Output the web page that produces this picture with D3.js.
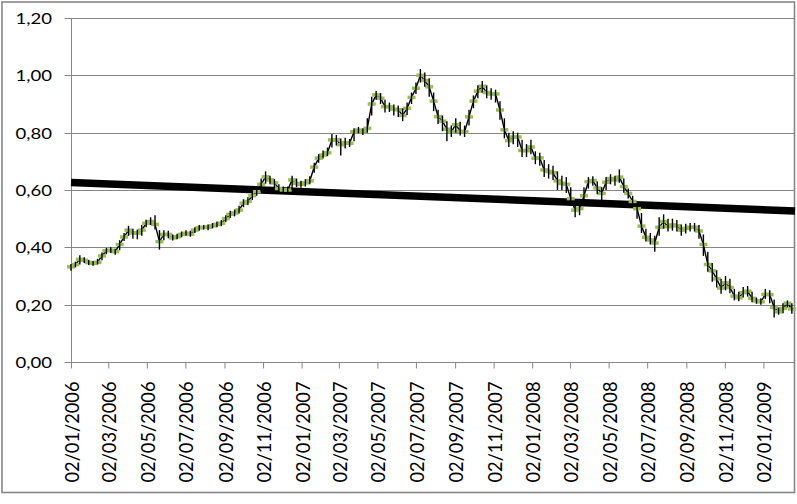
<!DOCTYPE html>
<html><head><meta charset="utf-8">
<script src="https://cdn.jsdelivr.net/npm/d3@7"></script>
<style>html,body{margin:0;padding:0;background:#fff;}svg{display:block;}</style>
</head><body><svg id="c" width="797" height="504"></svg>
<script>
const dates = [
"2006-01-02","2006-01-09","2006-01-16","2006-01-23","2006-01-30","2006-02-06","2006-02-13","2006-02-20","2006-02-27","2006-03-06",
"2006-03-13","2006-03-20","2006-03-27","2006-04-03","2006-04-10","2006-04-17","2006-04-24","2006-05-01","2006-05-08","2006-05-15",
"2006-05-22","2006-05-29","2006-06-05","2006-06-12","2006-06-19","2006-06-26","2006-07-03","2006-07-10","2006-07-17","2006-07-24",
"2006-07-31","2006-08-07","2006-08-14","2006-08-21","2006-08-28","2006-09-04","2006-09-11","2006-09-18","2006-09-25","2006-10-02",
"2006-10-09","2006-10-16","2006-10-23","2006-10-30","2006-11-06","2006-11-13","2006-11-20","2006-11-27","2006-12-04","2006-12-11",
"2006-12-18","2006-12-25","2007-01-01","2007-01-08","2007-01-15","2007-01-22","2007-01-29","2007-02-05","2007-02-12","2007-02-19",
"2007-02-26","2007-03-05","2007-03-12","2007-03-19","2007-03-26","2007-04-02","2007-04-09","2007-04-16","2007-04-23","2007-04-30",
"2007-05-07","2007-05-14","2007-05-21","2007-05-28","2007-06-04","2007-06-11","2007-06-18","2007-06-25","2007-07-02","2007-07-09",
"2007-07-16","2007-07-23","2007-07-30","2007-08-06","2007-08-13","2007-08-20","2007-08-27","2007-09-03","2007-09-10","2007-09-17",
"2007-09-24","2007-10-01","2007-10-08","2007-10-15","2007-10-22","2007-10-29","2007-11-05","2007-11-12","2007-11-19","2007-11-26",
"2007-12-03","2007-12-10","2007-12-17","2007-12-24","2007-12-31","2008-01-07","2008-01-14","2008-01-21","2008-01-28","2008-02-04",
"2008-02-11","2008-02-18","2008-02-25","2008-03-03","2008-03-10","2008-03-17","2008-03-24","2008-03-31","2008-04-07","2008-04-14",
"2008-04-21","2008-04-28","2008-05-05","2008-05-12","2008-05-19","2008-05-26","2008-06-02","2008-06-09","2008-06-16","2008-06-23",
"2008-06-30","2008-07-07","2008-07-14","2008-07-21","2008-07-28","2008-08-04","2008-08-11","2008-08-18","2008-08-25","2008-09-01",
"2008-09-08","2008-09-15","2008-09-22","2008-09-29","2008-10-06","2008-10-13","2008-10-20","2008-10-27","2008-11-03","2008-11-10",
"2008-11-17","2008-11-24","2008-12-01","2008-12-08","2008-12-15","2008-12-22","2008-12-29","2009-01-05","2009-01-12","2009-01-19",
"2009-01-26","2009-02-02","2009-02-09","2009-02-16"];

const closes = [
0.332,0.340,0.358,0.355,0.347,0.344,0.348,0.370,0.388,0.390,
0.385,0.410,0.436,0.460,0.450,0.450,0.460,0.484,0.490,0.480,
0.420,0.445,0.445,0.433,0.437,0.445,0.449,0.446,0.460,0.468,
0.470,0.470,0.475,0.480,0.484,0.500,0.515,0.520,0.530,0.554,
0.560,0.580,0.594,0.620,0.646,0.635,0.625,0.605,0.600,0.600,
0.635,0.623,0.620,0.625,0.632,0.680,0.711,0.722,0.730,0.775,
0.775,0.758,0.765,0.763,0.803,0.809,0.803,0.815,0.900,0.932,
0.920,0.891,0.890,0.882,0.880,0.860,0.885,0.923,0.955,1.000,
0.982,0.960,0.910,0.856,0.840,0.812,0.803,0.828,0.805,0.803,
0.855,0.910,0.945,0.962,0.940,0.935,0.935,0.879,0.810,0.772,
0.785,0.785,0.738,0.737,0.750,0.711,0.712,0.670,0.665,0.660,
0.632,0.623,0.620,0.570,0.530,0.535,0.580,0.629,0.633,0.607,
0.588,0.627,0.640,0.635,0.645,0.612,0.588,0.560,0.535,0.474,
0.435,0.426,0.415,0.470,0.490,0.472,0.478,0.475,0.460,0.466,
0.470,0.470,0.457,0.410,0.340,0.318,0.290,0.258,0.276,0.260,
0.230,0.224,0.242,0.247,0.222,0.213,0.210,0.236,0.235,0.190,
0.175,0.187,0.205,0.185];

const highs = [
0.342,0.350,0.372,0.365,0.356,0.352,0.360,0.382,0.398,0.400,
0.395,0.425,0.450,0.475,0.465,0.462,0.478,0.496,0.505,0.512,
0.460,0.460,0.458,0.445,0.447,0.455,0.460,0.458,0.470,0.478,
0.478,0.480,0.485,0.490,0.495,0.512,0.528,0.532,0.545,0.568,
0.575,0.598,0.612,0.640,0.665,0.650,0.638,0.620,0.612,0.612,
0.650,0.640,0.632,0.638,0.648,0.695,0.725,0.738,0.748,0.795,
0.792,0.780,0.782,0.778,0.815,0.820,0.815,0.850,0.925,0.945,
0.938,0.915,0.905,0.898,0.895,0.885,0.905,0.940,0.975,1.022,
1.010,0.990,0.940,0.880,0.860,0.840,0.825,0.850,0.838,0.825,
0.880,0.930,0.965,0.980,0.965,0.955,0.950,0.910,0.850,0.800,
0.805,0.800,0.775,0.760,0.775,0.735,0.730,0.705,0.690,0.685,
0.665,0.650,0.645,0.610,0.560,0.560,0.610,0.645,0.648,0.630,
0.610,0.645,0.655,0.650,0.672,0.640,0.605,0.580,0.555,0.520,
0.465,0.450,0.440,0.505,0.515,0.500,0.500,0.495,0.480,0.482,
0.485,0.485,0.478,0.445,0.385,0.345,0.320,0.290,0.300,0.290,
0.255,0.245,0.262,0.265,0.245,0.225,0.222,0.255,0.250,0.218,
0.190,0.205,0.215,0.205];

const lows = [
0.318,0.330,0.340,0.345,0.338,0.336,0.340,0.355,0.376,0.380,
0.374,0.390,0.422,0.440,0.430,0.428,0.440,0.470,0.478,0.462,
0.392,0.425,0.432,0.424,0.428,0.435,0.440,0.437,0.450,0.458,
0.462,0.460,0.466,0.470,0.474,0.488,0.502,0.508,0.518,0.540,
0.548,0.565,0.580,0.595,0.622,0.620,0.608,0.592,0.588,0.590,
0.600,0.610,0.608,0.612,0.620,0.660,0.695,0.710,0.718,0.748,
0.755,0.720,0.745,0.750,0.770,0.798,0.792,0.800,0.860,0.915,
0.900,0.870,0.872,0.860,0.855,0.840,0.862,0.900,0.935,0.975,
0.960,0.925,0.875,0.830,0.805,0.770,0.785,0.800,0.790,0.785,
0.825,0.885,0.920,0.940,0.920,0.915,0.905,0.845,0.780,0.750,
0.760,0.750,0.715,0.715,0.725,0.690,0.685,0.645,0.640,0.635,
0.600,0.600,0.590,0.545,0.505,0.512,0.555,0.605,0.615,0.585,
0.565,0.600,0.620,0.615,0.625,0.590,0.570,0.540,0.500,0.450,
0.420,0.410,0.385,0.440,0.465,0.455,0.458,0.455,0.440,0.448,
0.455,0.455,0.430,0.370,0.315,0.280,0.260,0.238,0.250,0.240,
0.215,0.212,0.225,0.228,0.208,0.203,0.200,0.220,0.205,0.155,
0.165,0.170,0.190,0.168];

const yTicks = [0, 0.2, 0.4, 0.6, 0.8, 1.0, 1.2];
const yTickLabels = ["0,00","0,20","0,40","0,60","0,80","1,00","1,20"];
const xTickDates = ["2006-01-02","2006-03-02","2006-05-02","2006-07-02","2006-09-02","2006-11-02",
"2007-01-02","2007-03-02","2007-05-02","2007-07-02","2007-09-02","2007-11-02",
"2008-01-02","2008-03-02","2008-05-02","2008-07-02","2008-09-02","2008-11-02","2009-01-02"];
const xTickLabels = ["02/01/2006","02/03/2006","02/05/2006","02/07/2006","02/09/2006","02/11/2006",
"02/01/2007","02/03/2007","02/05/2007","02/07/2007","02/09/2007","02/11/2007",
"02/01/2008","02/03/2008","02/05/2008","02/07/2008","02/09/2008","02/11/2008","02/01/2009"];
const axisStart = "2006-01-02", axisEnd = "2009-02-21";
const trendValues = [0.626, 0.527];

const parse = d3.utcParse("%Y-%m-%d");
const svg = d3.select("#c");
const L = 71, R = 795, T = 18, B = 362;
const x = d3.scaleUtc().domain([parse(axisStart), parse(axisEnd)]).range([L, R]);
const y = d3.scaleLinear().domain([0, 1.2]).range([B, T]);
const grid = "#868686";
const font = "Lato, 'Open Sans', sans-serif";

// outer border
svg.append("rect").attr("x", 2).attr("y", 2).attr("width", 792.5).attr("height", 490.5)
  .attr("fill", "#fff").attr("stroke", grid).attr("stroke-width", 1.6);

// gridlines
svg.append("g").selectAll("line").data(yTicks.slice(1)).join("line")
  .attr("x1", L).attr("x2", R).attr("y1", d => Math.round(y(d)) + 0.5).attr("y2", d => Math.round(y(d)) + 0.5)
  .attr("stroke", grid).attr("stroke-width", 1);

// y axis
const yAxis = d3.axisLeft(y).tickValues(yTicks).tickSize(7).tickFormat((d, i) => yTickLabels[i]);
const gy = svg.append("g").attr("transform", `translate(${L + 0.5},0)`).call(yAxis);
gy.selectAll(".tick").attr("transform", d => `translate(0,${Math.round(y(d)) + 0.5})`);
gy.select(".domain").attr("stroke", grid).attr("d", `M0,${T}V${B}`);
gy.selectAll(".tick line").attr("stroke", grid);
gy.selectAll(".tick text").attr("x", -19.5).attr("dy", null).attr("y", 5.3)
  .attr("font-family", font).attr("font-size", 14.6).attr("fill", "#000")
  .attr("textLength", 36.5).attr("lengthAdjust", "spacingAndGlyphs");

// x axis
const tickDates = xTickDates.map(parse);
const xAxis = d3.axisBottom(x).tickValues(tickDates).tickSize(6).tickFormat((d, i) => xTickLabels[i]);
const gx = svg.append("g").attr("transform", `translate(0,${B + 0.5})`).call(xAxis);
gx.select(".domain").attr("stroke", grid).attr("d", `M${L},0H${R}`);
gx.selectAll(".tick line").attr("stroke", grid);
gx.selectAll(".tick text")
  .attr("font-family", font).attr("font-size", 19.5).attr("fill", "#000")
  .attr("text-anchor", "end").attr("dy", null).attr("x", 0).attr("y", 0)
  .attr("transform", "translate(7.5,19) rotate(-90)")
  .attr("textLength", 101).attr("lengthAdjust", "spacingAndGlyphs");

// trendline
svg.append("line")
  .attr("x1", x(parse(axisStart))).attr("y1", y(trendValues[0]))
  .attr("x2", x(parse(axisEnd))).attr("y2", y(trendValues[1]))
  .attr("stroke", "#000").attr("stroke-width", 7.5);

// stock series
const data = dates.map((d, i) => ({ t: parse(d), c: closes[i], h: highs[i], l: lows[i] }));
const gs = svg.append("g");
gs.append("path").datum(data)
  .attr("d", d3.line().x(d => x(d.t)).y(d => y(d.c)))
  .attr("fill", "none").attr("stroke", "#000").attr("stroke-width", 1.4);
gs.selectAll("rect").data(data).join("rect")
  .attr("x", d => x(d.t) - 4).attr("y", d => y(d.c) - 1.75)
  .attr("width", 8).attr("height", 3.5).attr("fill", "#9bbb59");
gs.selectAll("line").data(data).join("line")
  .attr("x1", d => x(d.t)).attr("x2", d => x(d.t))
  .attr("y1", d => y(d.h)).attr("y2", d => y(d.l))
  .attr("stroke", "#000").attr("stroke-width", 1.4);
</script></body></html>
